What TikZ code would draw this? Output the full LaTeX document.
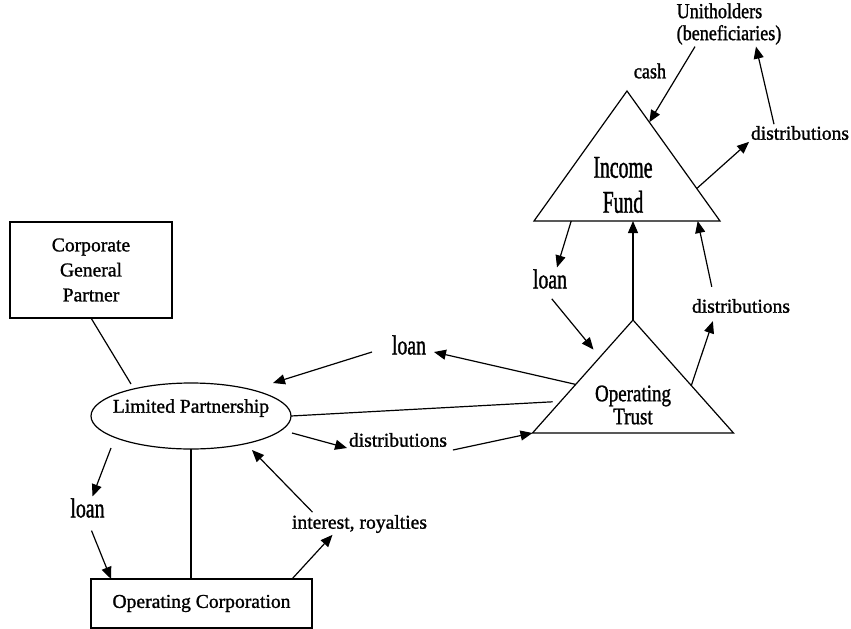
\documentclass[tikz,border=0pt]{standalone}
\usepackage{fontspec}
\setmainfont{Liberation Serif}
\newfontfamily\plainfont[FakeBold=1.2]{Liberation Serif}
\newfontfamily\loanfont[FakeStretch=0.72,FakeBold=1.2]{Liberation Serif}
\newfontfamily\fundfont[FakeStretch=0.62,FakeBold=1.2]{Liberation Serif}
\newfontfamily\unitfont[FakeStretch=0.85,FakeBold=1.2]{Liberation Serif}
\newfontfamily\trustfont[FakeStretch=0.8,FakeBold=1.2]{Liberation Serif}
\usetikzlibrary{shapes.geometric, arrows.meta, calc}

\begin{document}
\begin{tikzpicture}[x=0.75pt, y=-0.75pt, line width=0.9pt,
    box/.style={draw, rectangle, inner sep=0pt, outer sep=0pt},
    tri/.style={draw, isosceles triangle, isosceles triangle stretches,
                shape border rotate=90, inner sep=0pt, outer sep=0pt, anchor=apex},
    lbl/.style={inner sep=1pt, font=\plainfont\fontsize{14.7}{18.75}\selectfont},
    loanlbl/.style={inner sep=1pt, font=\loanfont\fontsize{20.6}{24}\selectfont},
    unitlbl/.style={inner sep=1pt, font=\unitfont\fontsize{16}{16.5}\selectfont},
    fundlbl/.style={inner sep=1pt, font=\fundfont\fontsize{23.8}{26.25}\selectfont},
    trustlbl/.style={inner sep=1pt, font=\trustfont\fontsize{17.8}{17.25}\selectfont},
    flow/.style={-{Triangle[length=9pt, width=7.5pt]}}]

   \useasboundingbox (0,0) rectangle (851,629);

   \node[tri, minimum width=139.5pt, minimum height=97.5pt] (IF) at (627,91) {};
   \node[tri, minimum width=150.75pt, minimum height=84.75pt] (OT) at (633,320) {};
   \node[draw, ellipse, minimum width=150pt, minimum height=49.5pt,
         inner sep=0pt, outer sep=0pt] (LP) at (191,416) {};
   \node[box, lbl, minimum width=121.5pt, minimum height=72pt, align=center]
        (CGP) at (91,270) {Corporate\\General\\Partner};
   \node[box, lbl, minimum width=165.75pt, minimum height=36.75pt]
        (OC) at (201.5,603.5) {Operating Corporation};

   \node[fundlbl, align=center] (IFtext) at (623,185) {Income\\Fund};
   \node[trustlbl, align=center] (OTtext) at (633,405) {Operating\\Trust};
   \node[lbl] (LPtext) at (191,408) {Limited Partnership};

   \node[unitlbl, align=left] (UH) at (729,24) {Unitholders\\(beneficiaries)};
   \node[unitlbl] (cash) at (650,71) {cash};
   \node[lbl] (distT) at (800,133) {distributions};
   \node[loanlbl] (loanT) at (550,279) {loan};
   \node[lbl] (distM) at (741,306) {distributions};
   \node[loanlbl] (loanM) at (409,345) {loan};
   \node[lbl] (distB) at (398,440) {distributions};
   \node[loanlbl] (loanBL) at (87.5,508) {loan};
   \node[lbl] (intr) at (359.5,524) {interest, royalties};

   \draw (CGP.south) -- ($(LP.center)+(-60,-32)$);
   \draw (LP.south) -- (LP.south |- OC.north);
   \draw[shorten >=6pt] (LP.east) -- ($(OT.apex)!0.72!(OT.left corner)$);

   \path[flow]
    ($(UH.south)+(-34,0)$) edge ($(IF.apex)!0.24!(IF.right corner)$)
    ($(IF.apex)!0.75!(IF.right corner)$) edge (distT.south west)
    ($(distT.north)+(-26,0)$) edge ($(UH.south)+(27,0)$)
    ($(IF.left corner)!0.2!(IF.right corner)$) edge ($(loanT.north)+(7,0)$)
    ($(loanT.south)+(-5,0)$) edge[shorten <=8pt, shorten >=7.5pt]
        ($(OT.apex)!0.33!(OT.left corner)$)
    (OT.apex) edge (OT.apex |- IF.left corner)
    ($(OT.apex)!0.58!(OT.right corner)$) edge[shorten >=5pt] ($(distM.south)+(-26,0)$)
    ($(distM.north)+(-27,0)$) edge[shorten <=8pt] ($(IF.left corner)!0.88!(IF.right corner)$)
    ($(OT.apex)!0.57!(OT.left corner)$) edge ($(loanM.east)+(6,7)$)
    ($(loanM.west)+(-18,7)$) edge ($(LP.center)+(82,-33)$)
    ($(LP.east)+(1,17)$) edge ($(distB.west)+(0,8)$)
    ($(distB.east)+(4,10)$) edge (OT.left corner)
    ($(LP.center)+(-80,32)$) edge ($(loanBL.north)+(5,0)$)
    ($(loanBL.south)+(4,11)$) edge ($(OC.north west)+(20,0)$)
    ($(OC.north east)+(-20,0)$) edge ($(intr.south)+(-27,0)$)
    ($(intr.north)+(-47,-1)$) edge ($(LP.center)+(61,34)$);

\end{tikzpicture}
\end{document}
